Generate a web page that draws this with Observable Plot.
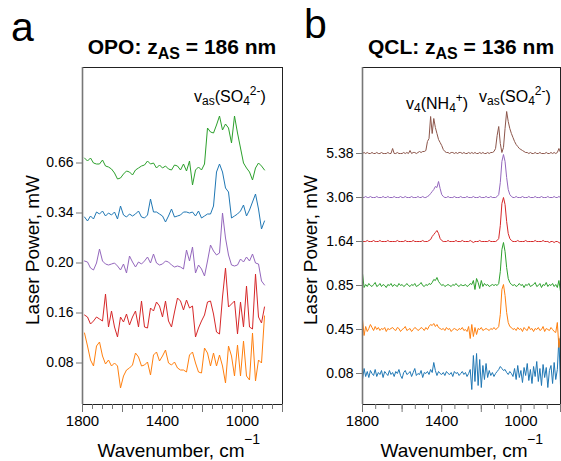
<!DOCTYPE html>
<html><head><meta charset="utf-8">
<script src="https://cdn.jsdelivr.net/npm/d3@7"></script>
<script src="https://cdn.jsdelivr.net/npm/@observablehq/plot@0.6"></script>
<style>
body{margin:0;background:#fff;}
#wrap{position:relative;width:561px;height:461px;overflow:hidden;background:#fff;font-family:Arial,"Liberation Sans",sans-serif;}
#wrap svg{position:absolute;top:0;}
</style></head><body><div id="wrap"></div>
<script>
// ---------- Panel a (OPO) ----------
const wnA = [1790,1775,1760,1745,1730,1715,1700,1685,1670,1655,1640,1625,1610,1595,1580,1565,1550,1535,1520,1505,1490,1475,1460,1445,1430,1415,1400,1385,1370,1355,1340,1325,1310,1295,1280,1265,1250,1235,1220,1205,1190,1175,1160,1145,1130,1115,1100,1085,1070,1055,1040,1025,1010,995,980,965,950,935,920,905,890];
const powerLabelsA = ["0.08","0.16","0.20","0.34","0.66"];
const colorsA = ["#ff7f0e","#d62728","#9467bd","#1f77b4","#2ca02c"];
const opo008 = [30,17,3,-3,17,21,7,-1,3,-3, 0,-3,-25,-13,-7,-5,-2,10,6,-3, -2,1,-12,8,11,2,7,13,0,-2, 1,-5,-7,-7,-9,8,11,0,-9,-10, 15,10,-3,10,-3,8,-3,-20,17,7, -13,18,-13,22,-13,-17,30,-18,3,0,47];
const opo016 = [-2,-4,-11,-8,-4,-6,-8,19,-14,2, -14,-24,-4,-9,-1,-12,-4,2,-14,12, -14,-15,5,2,11,7,-4,12,-8,-14, 1,15,12,3,13,5,7,-24,-15,-8, -2,11,12,-1,-19,-21,16,45,6,9, 12,-21,11,-14,27,-14,-16,39,-4,-10,6];
const opo020 = [2,1,-5,-7,0,14,2,-1,-2,-1, 0,-3,-7,-1,-10,7,1,-4,1,-1, 2,6,0,9,0,-2,-1,2,1,-2, -4,-3,-4,-6,13,2,16,-10,-2,-6, -13,2,18,12,8,10,50,25,8,-2, -3,-2,4,1,6,2,9,0,-1,-18,-22];
const opo034 = [-4,-8,-3,-6,1,-1,2,-3,0,-2, 1,-6,7,-2,-4,-1,-3,-1,2,-4, -5,-2,14,1,1,-1,-3,-9,-3,4, -4,-3,-2,1,1,0,1,-3,2,-5, -3,-1,-1,7,41,49,41,25,21,-5, -3,-1,2,8,-3,3,11,19,4,-16,-8];
const opo066 = [5,2,5,0,-1,-1,3,-3,-4,-6, -10,-16,-15,-11,-8,-9,-12,-7,-5,-3, -2,2,-1,0,-5,-2,-5,-3,-6,-7, -2,-3,-7,-1,-8,2,-22,-7,-4,-7, -1,35,31,30,38,47,33,39,35,20, 47,30,15,0,-5,-9,-17,-5,0,-3,-7];
const seriesA = [opo008, opo016, opo020, opo034, opo066];

// ---------- Panel b (QCL) ----------
const wnB = d3.range(1800, 799, -8); // measurement grid, 126 points
const powerLabelsB = ["0.08","0.45","0.85","1.64","3.06","5.38"];
const colorsB = ["#1f77b4","#ff7f0e","#2ca02c","#d62728","#9467bd","#8c564b"];
const qcl008 = [-6,5,-3,2,-4,3,0,-2,4,-3, 1,-1,3,-4,2,0,-2,3,-1,1, -3,2,0,4,-2,-5,1,3,-1,0, 2,-3,1,5,-2,0,-1,3,-4,1, 0,2,-1,4,1,11,3,-2,2,0, -1,1,-2,2,0,-1,1,-3,2,0, 1,-2,0,2,-1,1,-3,0,4,-16, 18,-8,20,-12,14,-14,8,-6,10,-4, 3,-2,1,-3,0,2,4,7,5,3, 4,1,-1,2,0,-3,5,-6,8,-4, 3,-9,6,-2,10,-7,4,-10,7,-3, 12,-8,5,-12,9,-4,6,-14,3,8, -10,11,-6,4,35,-12];
const qcl045 = [10,-6,3,-2,1,5,2,-1,3,0, 2,-1,1,0,2,-2,1,0,1,2, 0,-1,2,1,-2,0,1,3,-1,0, 1,-2,0,2,1,-1,0,2,1,-1, 2,0,3,5,4,6,3,5,2,1, 0,1,-1,2,0,1,-2,0,1,0, -1,1,0,2,-1,0,-2,3,-9,5, -7,2,-5,1,0,2,-1,0,1,0, -1,1,0,2,0,1,3,15,40,45, 34,17,7,3,2,0,1,-1,2,0, 1,-2,2,0,-1,3,0,1,-2,1, 0,2,-1,0,3,-2,1,0,-1,2, 0,-2,-3,7,-18,-6];
const qcl085 = [12,-2,1,-1,2,0,-1,1,3,-1, 0,2,-1,1,0,-2,1,0,2,-1, 1,0,-1,2,0,1,-1,0,2,0, -1,1,0,2,-1,0,1,3,0,-1, 1,0,2,1,3,6,5,8,4,2, 0,1,-1,0,1,0,-1,1,0,2, 0,-1,1,0,0,1,-1,0,2,1, 5,-4,7,3,-3,5,-1,2,0,1, -1,0,1,0,1,0,2,14,36,43, 34,18,7,3,1,0,1,-1,0,2, 0,1,-2,1,0,2,-1,0,1,3, -1,0,2,-2,1,0,3,-1,1,0, 2,-1,1,-2,5,-6];
const qcl164 = [0,0,0,1,0,0,0,1,0,0, 0,1,0,0,0,0,1,0,0,0, 0,0,1,0,0,0,0,1,0,0, 0,0,1,0,0,0,0,0,1,0, 0,0,1,2,5,7,9,11,8,3, 1,0,0,0,1,0,0,0,0,1, 0,0,0,1,0,0,0,0,1,0, -1,0,0,0,1,0,0,0,0,0, 1,0,0,0,0,1,3,16,38,44, 37,20,8,3,1,0,0,0,1,0, 0,0,0,1,0,0,0,0,0,1, 0,0,0,0,1,0,0,0,-1,0, 0,-1,0,0,-1,-2];
const qcl306 = [0,0,1,0,0,1,0,0,0,1, 0,0,0,1,0,0,1,0,0,0, 1,0,0,0,1,0,0,1,0,0, 0,1,0,0,0,1,0,0,1,0, 0,1,2,4,6,8,11,10,16,9, 3,1,0,0,1,0,0,0,1,0, 0,0,1,0,0,0,1,0,0,0, 1,0,0,0,1,0,0,0,1,0, 0,1,0,0,0,1,3,15,36,43, 36,20,8,3,1,0,0,1,0,0, 0,1,0,0,0,1,0,0,0,1, 0,0,0,1,0,0,0,1,0,0, 0,1,0,0,1,0];
const qcl538 = [0,1,0,1,0,0,1,0,0,1, 0,0,1,0,0,0,1,0,0,5, 0,0,1,0,0,0,1,0,1,0, 3,0,1,1,0,1,2,1,2,2, 3,12,15,37,20,35,26,20,14,11, 8,4,2,1,1,0,1,1,0,1, 0,1,1,0,1,0,0,1,0,1, 0,1,0,0,1,0,1,0,0,1, 0,1,1,2,5,18,27,10,1,6, 25,42,32,25,20,16,12,9,7,5, 4,3,2,1,1,0,1,0,0,1, 0,0,1,0,0,0,1,0,0,1, 0,1,0,1,5,1];
const seriesB = [qcl008, qcl045, qcl085, qcl164, qcl306, qcl538];

const FONT = 'Arial, "Liberation Sans", sans-serif';
const wrap = document.getElementById("wrap");

function panel({left, width, mLeft, mRight, xs, series, colors, labels, step, yDomain, minor}) {
  const offsets = labels.map((_, i) => i * step);
  const labelOf = new Map(offsets.map((o, i) => [o, labels[i]]));
  const lines = series.map((vals, k) => Plot.line(
    vals.map((v, i) => ({wn: xs[i], y: offsets[k] + v})),
    {x: "wn", y: "y", stroke: colors[k], strokeWidth: 1}
  ));
  const major = [1800, 1600, 1400, 1200, 1000, 800];
  const svg = Plot.plot({
    width, height: 461,
    marginLeft: mLeft, marginRight: mRight, marginTop: 67, marginBottom: 57,
    style: {fontFamily: FONT, fontSize: "14px", background: "transparent", color: "#000"},
    x: {domain: [1800, 800], label: null},
    y: {domain: yDomain, label: null},
    marks: [
      ...lines,
      Plot.frame({stroke: "#222", strokeWidth: 1}),
      Plot.ruleX([1800], {stroke: "#777", strokeWidth: 1.6}),
      Plot.axisX(minor, {tickSize: 5, stroke: "#777", tickFormat: () => "", label: null}),
      Plot.axisX(major, {tickSize: 8, stroke: "#777", tickFormat: () => "", label: null}),
      Plot.axisX([1800, 1400, 1000], {tickSize: 0, tickPadding: 11, fontSize: 15, fill: "#000", tickFormat: d => String(d), label: null}),
      Plot.axisY(offsets, {tickSize: 6, stroke: "#777", tickFormat: () => "", label: null}),
      Plot.axisY(offsets, {tickSize: 0, tickPadding: 9, fontSize: 14, fill: "#000", tickFormat: d => labelOf.get(d), label: null})
    ]
  });
  svg.style.left = left + "px";
  wrap.appendChild(svg);
}

panel({left: 0, width: 290, mLeft: 82, mRight: 8, xs: wnA, series: seriesA, colors: colorsA,
  labels: powerLabelsA, step: 50, yDomain: [-41.5, 295.5], minor: d3.range(1800, 799, -50)});
panel({left: 290, width: 271, mLeft: 72, mRight: 1, xs: wnB, series: seriesB, colors: colorsB,
  labels: powerLabelsB, step: 44, yDomain: [-31, 306], minor: d3.range(0, 16).map(k => 1800 - k * 200 / 3)});

// ---------- Text overlay ----------
const ns = "http://www.w3.org/2000/svg";
const ov = document.createElementNS(ns, "svg");
ov.setAttribute("width", 561); ov.setAttribute("height", 461);
ov.style.left = "0px"; ov.style.fontFamily = FONT;
wrap.appendChild(ov);
function txt(x, y, parts, opt = {}) {
  const t = document.createElementNS(ns, "text");
  t.setAttribute("x", x); t.setAttribute("y", y);
  t.setAttribute("font-size", opt.size || 15);
  if (opt.anchor) t.setAttribute("text-anchor", opt.anchor);
  if (opt.weight) t.setAttribute("font-weight", opt.weight);
  if (opt.transform) t.setAttribute("transform", opt.transform);
  for (const p of parts) {
    const s = document.createElementNS(ns, "tspan");
    s.textContent = p.t;
    if (p.dy) s.setAttribute("dy", p.dy);
    if (p.size) s.setAttribute("font-size", p.size);
    t.appendChild(s);
  }
  ov.appendChild(t);
}
// panel letters
txt(11, 41, [{t: "a"}], {size: 41});
txt(304, 38, [{t: "b"}], {size: 41});
// titles
txt(182, 54, [{t: "OPO: z"}, {t: "AS", dy: 5, size: 16}, {t: " = 186 nm", dy: -5}], {size: 21, weight: "bold", anchor: "middle"});
txt(461, 54, [{t: "QCL: z"}, {t: "AS", dy: 5, size: 16}, {t: " = 136 nm", dy: -5}], {size: 21, weight: "bold", anchor: "middle"});
// peak annotations
const so4 = [{t: "v"}, {t: "as", dy: 3, size: 12}, {t: "(SO", dy: -3}, {t: "4", dy: 3, size: 12}, {t: "2-", dy: -10, size: 12}, {t: ")", dy: 7}];
txt(194, 102, so4, {size: 16});
txt(479, 102, so4, {size: 16});
txt(406, 109, [{t: "v"}, {t: "4", dy: 3, size: 12}, {t: "(NH", dy: -3}, {t: "4", dy: 3, size: 12}, {t: "+", dy: -10, size: 12}, {t: ")", dy: 7}], {size: 16});
// axis titles
txt(171, 457, [{t: "Wavenumber, cm"}], {size: 19, anchor: "middle"});
txt(244, 444, [{t: "\u22121"}], {size: 14});
txt(454, 457, [{t: "Wavenumber, cm"}], {size: 19, anchor: "middle"});
txt(527, 444, [{t: "\u22121"}], {size: 14});
txt(0, 0, [{t: "Laser Power, mW"}], {size: 19, anchor: "middle", transform: "translate(39,250) rotate(-90)"});
txt(0, 0, [{t: "Laser Power, mW"}], {size: 19, anchor: "middle", transform: "translate(317,250) rotate(-90)"});
</script></body></html>
